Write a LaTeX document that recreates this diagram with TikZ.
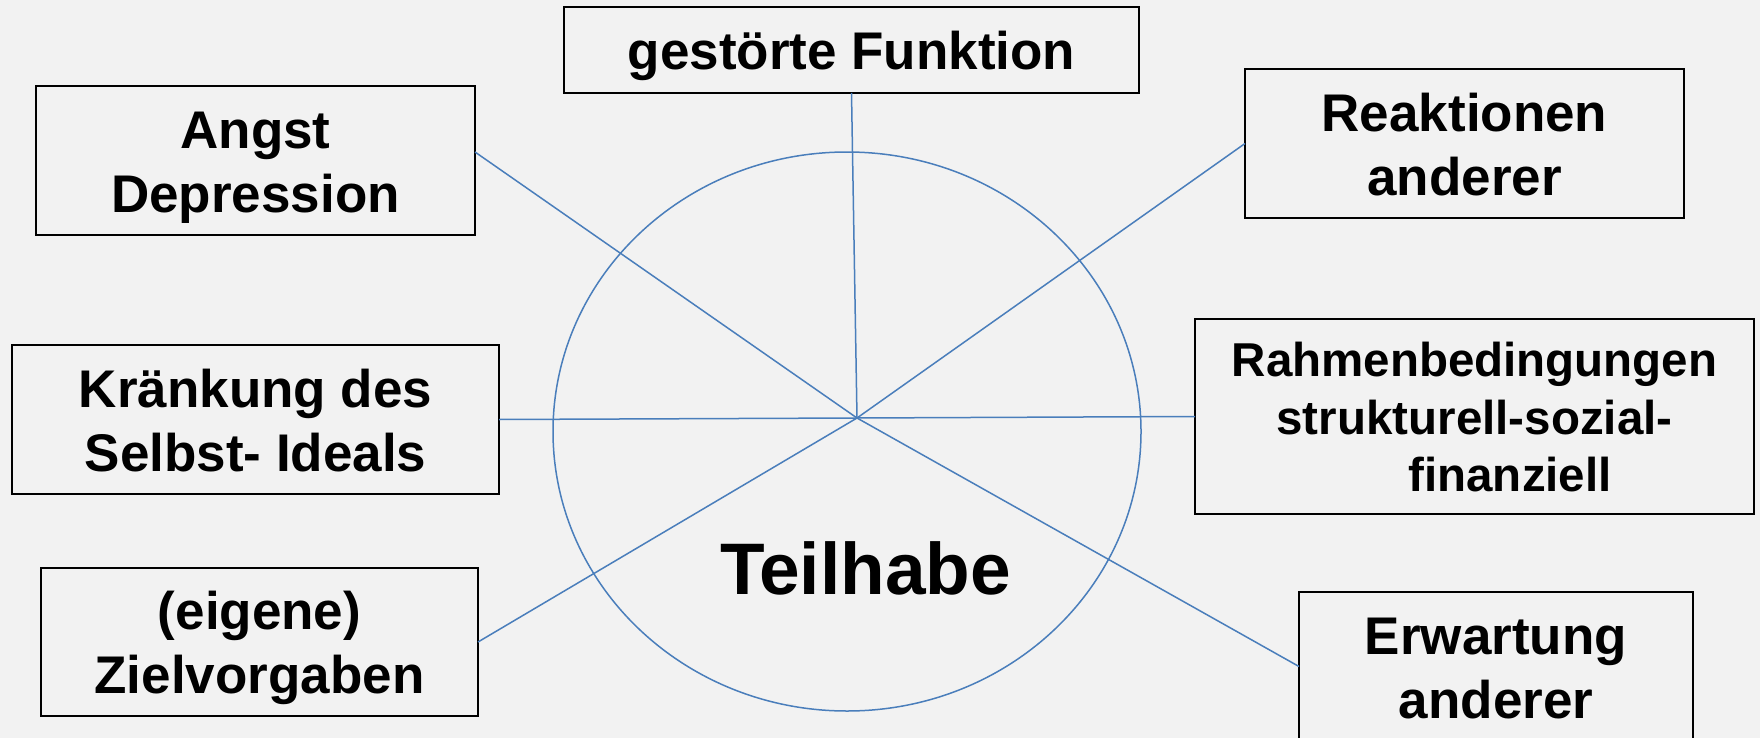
\documentclass[tikz,border=0pt]{standalone}
\usepackage{fontspec}
\setmainfont{Liberation Sans}
\definecolor{bggray}{HTML}{F2F2F2}
\definecolor{spokeblue}{HTML}{4A7EBB}
\newcommand{\bs}{\rule[-0.21em]{0pt}{1.17em}}

\begin{document}
\begin{tikzpicture}[x=0.5pt, y=-0.5pt, line join=miter,
        every node/.style={outer sep=0pt, align=center, font=\bfseries\fontsize{26.5}{32}\selectfont},
        box/.style={draw=black, line width=0.9pt, minimum height=74.5pt, inner sep=4pt},
        spoke/.style={draw=spokeblue, line width=0.75pt}]
    \useasboundingbox (0,0) rectangle (1760,738);
    \fill[bggray] (0,0) rectangle (1760,738);

    \node[box, minimum width=287.5pt, minimum height=43pt] (funktion) at (851.5, 50) {\bs gestörte Funktion\bs};
    \node[box, minimum width=219.5pt] (angst) at (255.5, 160.5) {\bs Angst\\Depression\bs};
    \node[box, minimum width=219.5pt] (reaktion) at (1464.5, 143.5) {\bs Reaktionen\\anderer\bs};
    \node[box, minimum width=243.5pt] (kraenkung) at (255.5, 419.5) {\bs Kränkung des\\Selbst- Ideals\bs};
    \node[box, minimum width=279.5pt, minimum height=97.5pt, font=\bfseries\fontsize{23.75}{28.75}\selectfont] (rahmen) at (1474.5, 416.5) {\bs Rahmenbedingungen\\strukturell-sozial-\\\hspace*{1.5em}finanziell\bs};
    \node[box, minimum width=218.5pt, minimum height=74pt] (ziel) at (259.5, 642) {\bs(eigene)\\Zielvorgaben\bs};
    \node[box, minimum width=197pt] (erwartung) at (1496, 666.5) {\bs Erwartung\\anderer\bs};
    \node[font=\bfseries\fontsize{36.5}{44}\selectfont] (teilhabe) at (865.5, 568.5) {Teilhabe};
    \coordinate (hub) at (857, 418);

    \draw[spoke] (847, 431.5) ellipse [x radius=294, y radius=279.5];
    \draw[spoke] (funktion.south) -- (hub);
    \draw[spoke] ([yshift=4.25pt]angst.east) -- (hub);
    \draw[spoke] (reaktion.west) -- (hub);
    \draw[spoke] (kraenkung.east) -- (hub);
    \draw[spoke] (rahmen.west) -- (hub);
    \draw[spoke] (ziel.east) -- (hub);
    \draw[spoke] (erwartung.west) -- (hub);
\end{tikzpicture}
\end{document}
